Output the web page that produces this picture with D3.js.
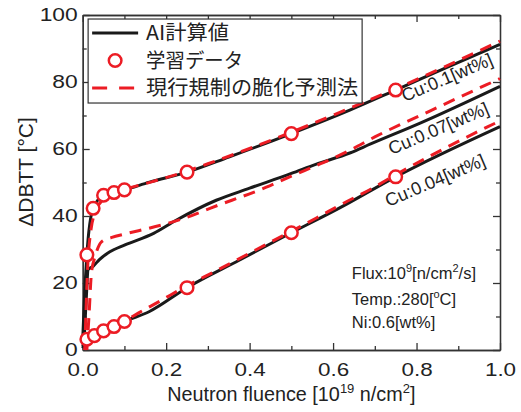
<!DOCTYPE html>
<html>
<head>
<meta charset="utf-8">
<script src="https://cdn.jsdelivr.net/npm/d3@7"></script>
<style>
  body { margin: 0; background: #fff; }
  svg { font-family: "Liberation Sans", Arial, sans-serif; }
  .axis path, .axis line { stroke: #333; stroke-width: 1.3; }
  .axis text { font-size: 19px; fill: #222; }
</style>
</head>
<body>
<div id="chart"></div>
<script>
const width = 521,
    height = 412

const margin = {left: 82.7, right: 21, top: 15, bottom: 62}

// values: [fluence, dDBTT]
const xTicks = [0, 0.2, 0.4, 0.6, 0.8, 1.0]
const xMinor = [0.1, 0.3, 0.5, 0.7, 0.9]
const yTicks = [0, 20, 40, 60, 80, 100]
const yMinor = [10, 30, 50, 70, 90]

const aiCu010 = [[0,3],[0.004,15],[0.01,28.4],[0.025,42.3],[0.05,46.2],[0.075,47],[0.1,47.8],[0.16,50.1],
    [0.25,53.1],[0.35,57.6],[0.5,64.6],[0.64,71.6],[0.75,77.6],[0.87,84.2],[1.0,91.2]]
const aiCu007 = [[0,1],[0.003,3],[0.008,14],[0.013,24],[0.025,25],[0.04,27],[0.065,29.3],[0.1,31.3],
    [0.17,34.8],[0.225,38.8],[0.32,44.7],[0.4,48.3],[0.5,52.7],[0.56,55.5],[0.64,58.8],[0.69,61.5],
    [0.81,67.8],[1.0,78.7]]
const aiCu004 = [[0,0.5],[0.01,3.2],[0.03,4.3],[0.05,5.7],[0.075,7],[0.1,8.5],[0.16,11.5],[0.25,18.6],
    [0.375,26.8],[0.5,35],[0.617,42.5],[0.75,51.7],[1.0,66.7]]

const predCu010 = [[0.005,0],[0.008,12],[0.012,25],[0.02,36],[0.03,41],[0.05,45],[0.1,47.8],[0.165,50.2],
    [0.22,52.2],[0.3,55.6],[0.5,65],[0.64,72.2],[0.75,78],[1.0,92.2]]
const predCu007 = [[0.01,0],[0.015,10],[0.021,23],[0.03,28],[0.045,32.3],[0.07,33.6],[0.1,34.6],[0.17,36.7],
    [0.245,39.4],[0.305,42.3],[0.44,48.6],[0.5,51.9],[0.57,55.6],[0.64,59.6],[0.7,63.6],[0.833,71.4],
    [0.968,79.2],[1.0,81]]
const predCu004 = [[0.005,0],[0.01,2.6],[0.03,4.2],[0.05,5.5],[0.1,8.6],[0.133,11],[0.185,14.6],[0.25,19.2],
    [0.313,23.2],[0.441,31.6],[0.56,39.4],[0.625,43.8],[0.69,48],[0.75,52.3],[0.97,66.6],[1.0,68.4]]

const trainCu010 = [[0.01,28.4],[0.025,42.3],[0.05,46.2],[0.075,47],[0.1,47.8],[0.25,53.1],[0.5,64.6],[0.75,77.6]]
const trainCu004 = [[0.01,3.2],[0.028,4.3],[0.05,5.7],[0.075,7],[0.1,8.5],[0.25,18.6],[0.5,35],[0.75,51.7]]

const curveLabels = [
    {text: "Cu:0.1[wt%]", x: 0.772, y: 74.0},
    {text: "Cu:0.07[wt%]", x: 0.740, y: 58.2},
    {text: "Cu:0.04[wt%]", x: 0.732, y: 42.7}
]

const legendItems = ["AI計算値", "学習データ", "現行規制の脆化予測法"]
const legendWidths = [83, 97, 212]

const red = "#ec1c24",
    black = "#1a1a1a"

var svg = d3.select("#chart")
    .append("svg")
    .attr("width", width)
    .attr("height", height)

var x = d3.scaleLinear().domain([0, 1]).range([margin.left, width - margin.right])
var y = d3.scaleLinear().domain([0, 100]).range([height - margin.bottom, margin.top])

var line = d3.line()
    .x(d => x(d[0]))
    .y(d => y(d[1]))
    .curve(d3.curveMonotoneX)

// the source type is a little wider than Arial
function stretch(sel, k) {
    sel.each(function () {
        var w = this.getComputedTextLength()
        if (w > 0) d3.select(this).attr("textLength", w * k).attr("lengthAdjust", "spacingAndGlyphs")
    })
}

// axes, ticks pointing inward on all four sides
function addAxis(axis, tr, vals, size, fmt, pad) {
    return svg.append("g")
        .attr("class", "axis")
        .attr("transform", tr)
        .call(axis.tickValues(vals).tickSizeInner(size).tickSizeOuter(0)
            .tickPadding(pad).tickFormat(fmt))
}
const noLab = () => ""
var gx = addAxis(d3.axisBottom(x), `translate(0,${y(0)})`, xTicks, -7, d3.format(".1f"), 12.5)
addAxis(d3.axisBottom(x), `translate(0,${y(0)})`, xMinor, -4, noLab, 0)
addAxis(d3.axisTop(x), `translate(0,${y(100)})`, xTicks, -7, noLab, 0)
addAxis(d3.axisTop(x), `translate(0,${y(100)})`, xMinor, -4, noLab, 0)
var gy = addAxis(d3.axisLeft(y), `translate(${x(0)},0)`, yTicks, -7, d3.format("d"), 5)
addAxis(d3.axisLeft(y), `translate(${x(0)},0)`, yMinor, -4, noLab, 0)
addAxis(d3.axisRight(y), `translate(${x(1)},0)`, yTicks, -7, noLab, 0)
addAxis(d3.axisRight(y), `translate(${x(1)},0)`, yMinor, -4, noLab, 0)
gy.selectAll("text").attr("dy", "0.3em")
stretch(gx.selectAll("text"), 1.18)
stretch(gy.selectAll("text"), 1.2)

// curves
var plot = svg.append("g")

;[aiCu010, aiCu007, aiCu004].forEach(s => {
    plot.append("path")
        .attr("d", line(s))
        .attr("fill", "none")
        .attr("stroke", black)
        .attr("stroke-width", 3)
})

;[predCu010, predCu007, predCu004].forEach(s => {
    plot.append("path")
        .attr("d", line(s))
        .attr("fill", "none")
        .attr("stroke", red)
        .attr("stroke-width", 3)
        .attr("stroke-dasharray", "12,8")
})

plot.selectAll("circle")
    .data(trainCu010.concat(trainCu004))
    .enter()
    .append("circle")
    .attr("cx", d => x(d[0]))
    .attr("cy", d => y(d[1]))
    .attr("r", 6.3)
    .attr("fill", "#fff")
    .attr("stroke", red)
    .attr("stroke-width", 2.5)

// rotated curve labels
svg.selectAll(".cu")
    .data(curveLabels)
    .enter()
    .append("text")
    .attr("class", "cu")
    .attr("transform", d => `translate(${x(d.x)},${y(d.y)}) rotate(-23)`)
    .attr("font-size", 18)
    .attr("fill", "#222")
    .text(d => d.text)

// condition notes
var note = svg.append("g")
    .attr("font-size", 16.5)
    .attr("fill", "#222")
var t1 = note.append("text").attr("x", x(0.645)).attr("y", y(21.2))
t1.append("tspan").text("Flux:10")
t1.append("tspan").attr("dy", -7).attr("font-size", 11).text("9")
t1.append("tspan").attr("dy", 7).text("[n/cm")
t1.append("tspan").attr("dy", -7).attr("font-size", 11).text("2")
t1.append("tspan").attr("dy", 7).text("/s]")
var t2 = note.append("text").attr("x", x(0.645)).attr("y", y(13.4))
t2.append("tspan").text("Temp.:280[")
t2.append("tspan").attr("dy", -7).attr("font-size", 11).text("o")
t2.append("tspan").attr("dy", 7).text("C]")
note.append("text").attr("x", x(0.645)).attr("y", y(6.6)).text("Ni:0.6[wt%]")

// axis titles
svg.append("text")
    .attr("transform", `translate(33,172) rotate(-90)`)
    .attr("text-anchor", "middle")
    .attr("font-size", 21)
    .attr("fill", "#222")
    .text("ΔDBTT [°C]")

var xl = svg.append("text")
    .attr("x", (x(0) + x(1)) / 2)
    .attr("y", 401)
    .attr("text-anchor", "middle")
    .attr("font-size", 19.8)
    .attr("fill", "#222")
xl.append("tspan").text("Neutron fluence [10")
xl.append("tspan").attr("dy", -8).attr("font-size", 13).text("19")
xl.append("tspan").attr("dy", 8).text(" n/cm")
xl.append("tspan").attr("dy", -8).attr("font-size", 13).text("2")
xl.append("tspan").attr("dy", 8).text("]")

// legend
var legend = svg.append("g")
    .attr("transform", `translate(${x(0.013)},${y(98.8)})`)

legend.append("rect")
    .attr("width", 274)
    .attr("height", 84)
    .attr("fill", "#fff")
    .attr("stroke", "#333")
    .attr("stroke-width", 1.2)

var row = legend.selectAll(".row")
    .data(legendItems)
    .enter()
    .append("g")
    .attr("transform", (d, i) => `translate(0,${14 + i * 27.5})`)

row.append("text")
    .attr("x", 58)
    .attr("dy", "0.36em")
    .attr("font-family", "'Noto Sans CJK JP', sans-serif")
    .attr("font-size", 20.5)
    .attr("fill", "#222")
    .attr("textLength", (d, i) => legendWidths[i])
    .attr("lengthAdjust", "spacingAndGlyphs")
    .text(d => d)

legend.append("line")
    .attr("x1", 4).attr("x2", 50)
    .attr("y1", 14).attr("y2", 14)
    .attr("stroke", black).attr("stroke-width", 3)
legend.append("circle")
    .attr("cx", 27).attr("cy", 41.5).attr("r", 6.3)
    .attr("fill", "#fff").attr("stroke", red).attr("stroke-width", 2.5)
legend.append("line")
    .attr("x1", 4).attr("x2", 50)
    .attr("y1", 69).attr("y2", 69)
    .attr("stroke", red).attr("stroke-width", 3)
    .attr("stroke-dasharray", "15,12")
</script>
</body>
</html>
